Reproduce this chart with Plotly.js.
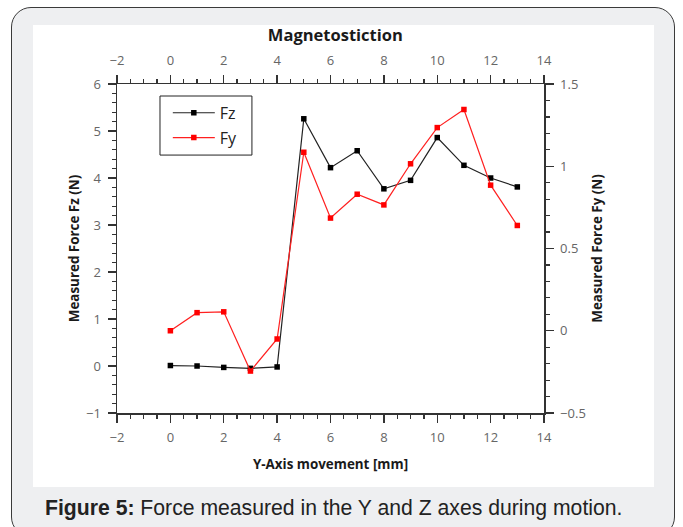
<!DOCTYPE html>
<html>
<head>
<meta charset="utf-8">
<script src="https://cdn.plot.ly/plotly-3.0.1.min.js"></script>
<style>
  html, body { margin:0; padding:0; width:683px; height:527px; overflow:hidden; background:#ffffff; }
  #card { position:absolute; left:11px; top:7px; width:664px; height:530px; box-sizing:border-box;
          border:1.5px solid #3a3a3a; border-radius:20px; background:#eeeff1; }
  #panel { position:absolute; left:33px; top:25px; width:621px; height:462px; background:#ffffff; }
  #caption { position:absolute; left:45px; top:496px; font-family:"Liberation Sans", Arial, sans-serif;
             font-size:21.2px; color:#222; white-space:nowrap; }
  #chart { position:absolute; left:0; top:0; width:683px; height:527px; }
</style>
</head>
<body>
<div id="card"></div>
<div id="panel"></div>
<div id="caption"><b>Figure 5:</b> Force measured in the Y and Z axes during motion.</div>
<div id="chart"></div>
<script>
// Data
const positions = [0, 1, 2, 3, 4, 5, 6, 7, 8, 9, 10, 11, 12, 13];
const fzValues = [0.01, 0.0, -0.03, -0.05, -0.02, 5.26, 4.22, 4.58, 3.77, 3.95, 4.86, 4.27, 4.0, 3.81];
const fyValues = [0.0, 0.11, 0.115, -0.245, -0.05, 1.085, 0.685, 0.83, 0.765, 1.015, 1.235, 1.345, 0.885, 0.64];
const seriesNames = ["Fz", "Fy"];

const tickFont = {family: "Open Sans", size: 13, color: "#666666"};
const titleFont = {family: "Open Sans", size: 13.4, color: "#1a1a1a", weight: 700};
const minorTicks = (d) => ({dtick: d, ticks: "outside", ticklen: 4, tickcolor: "#333", tickwidth: 1.2});
const axisCommon = {
  showgrid: false, zeroline: false, showline: true, linecolor: "#333", linewidth: 1.5,
  ticks: "outside", ticklen: 8, tickwidth: 1.3, tickcolor: "#333", tickfont: tickFont,
  ticklabelstandoff: 4
};

const traces = [
  {x: positions, y: fzValues, name: seriesNames[0], xaxis: "x", yaxis: "y", mode: "lines+markers",
   legendgroup: "a",
   line: {color: "#222", width: 1.2}, marker: {symbol: "square", size: 5.5, color: "#000"}},
  {x: positions, y: fyValues, name: seriesNames[1], xaxis: "x2", yaxis: "y2", mode: "lines+markers",
   legendgroup: "b",
   line: {color: "#ff2020", width: 1.2}, marker: {symbol: "square", size: 5.5, color: "#ff0000"}}
];

const layout = {
  width: 683, height: 527,
  paper_bgcolor: "rgba(0,0,0,0)", plot_bgcolor: "rgba(0,0,0,0)",
  margin: {l: 117, r: 139, t: 84, b: 114, pad: 0},
  showlegend: true,
  title: {text: "Magnetostiction", font: {family: "Open Sans", size: 16.5, color: "#1a1a1a", weight: 700},
          x: 0.491, xref: "container", xanchor: "center", y: 1 - 35/527, yref: "container", yanchor: "middle"},
  xaxis: Object.assign({}, axisCommon, {range: [-2, 14], dtick: 2, tick0: 0, minor: minorTicks(0.5),
          title: {text: "Y-Axis movement [mm]", font: titleFont, standoff: 14}}),
  xaxis2: Object.assign({}, axisCommon, {range: [-2, 14], dtick: 2, tick0: 0, overlaying: "x", side: "top", anchor: "y2",
          minor: minorTicks(0.5)}),
  yaxis: Object.assign({}, axisCommon, {range: [-1, 6], dtick: 1, tick0: 0, minor: minorTicks(0.2),
          title: {text: "Measured Force Fz (N)", font: titleFont, standoff: 3}}),
  yaxis2: Object.assign({}, axisCommon, {range: [-0.5, 1.5], dtick: 0.5, tick0: 0, overlaying: "y", side: "right", anchor: "x2",
          minor: minorTicks(0.1),
          title: {text: "Measured Force Fy (N)", font: titleFont, standoff: 8}}),
  legend: {x: 0.119, y: 0.964, xanchor: "left", yanchor: "top", bgcolor: "rgba(0,0,0,0)",
           borderwidth: 0, tracegroupgap: 1, itemwidth: 42,
           font: {family: "Open Sans", size: 16, color: "#222"}},
  shapes: [{type: "rect", xref: "paper", yref: "paper", x0: 0.1007, x1: 0.316, y0: 0.784, y1: 0.9635,
            line: {color: "#222", width: 1}, fillcolor: "#ffffff", layer: "below"}]
};

Plotly.newPlot("chart", traces, layout, {displayModeBar: false, staticPlot: true});
</script>
</body>
</html>
